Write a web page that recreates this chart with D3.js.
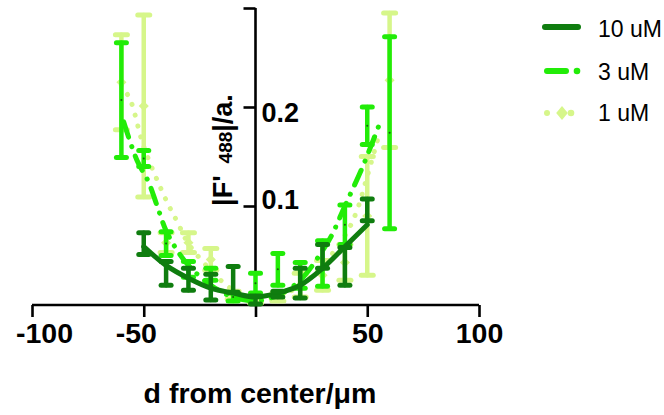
<!DOCTYPE html>
<html>
<head>
<meta charset="utf-8">
<script src="https://cdn.jsdelivr.net/npm/d3@7"></script>
<style>
  html, body { margin: 0; padding: 0; background: #fff; }
  svg { display: block; font-family: "Liberation Sans", Arial, sans-serif; }
</style>
</head>
<body>
<svg id="chart" width="664" height="415"></svg>
<script>
// Fluorescence change vs. distance from the centre, three concentrations
const seriesNames = ["10 uM", "3 uM", "1 uM"];

// 10 uM: means and SEM
const dist10 = [-50, -40, -30, -20, -10, 0, 10, 20, 30, 40, 50];
const mean10 = [0.062, 0.032, 0.026, 0.018, 0.026, 0.005, 0.011, 0.022, 0.049, 0.039, 0.096];
const err10  = [0.011, 0.012, 0.011, 0.013, 0.013, 0.004, 0.003, 0.015, 0.012, 0.019, 0.011];

// 3 uM
const dist3 = [-60, -50, -40, -30, -20, -10, 0, 10, 20, 30, 40, 50, 60];
const mean3 = [0.207, 0.148, 0.062, 0.036, 0.031, 0.008, 0.022, 0.036, 0.030, 0.042, 0.081, 0.181, 0.174];
const err3  = [0.058, 0.008, 0.012, 0.008, 0.006, 0.004, 0.010, 0.016, 0.013, 0.023, 0.020, 0.019, 0.097];

// 1 uM
const dist1 = [-60, -50, -40, -30, -20, -10, 0, 10, 20, 30, 40, 50, 60];
const mean1 = [0.225, 0.201, 0.063, 0.063, 0.046, 0.010, 0.005, 0.008, 0.020, 0.030, 0.043, 0.090, 0.227];
const err1  = [0.048, 0.092, 0.010, 0.010, 0.011, 0.004, 0.003, 0.004, 0.012, 0.015, 0.018, 0.060, 0.068];

// fitted trend curves
const fitX10 = [-50, -40, -30, -20, -10, 0, 10, 20, 30, 40, 50];
const fitY10 = [0.059, 0.040, 0.027, 0.017, 0.012, 0.008, 0.012, 0.020, 0.037, 0.059, 0.081];
const fitX3 = [-59, -53, -48, -44, -40, -35, -30, -20, -10, 0, 10, 20, 30, 34, 40, 48, 55];
const fitY3 = [0.185, 0.146, 0.125, 0.100, 0.075, 0.055, 0.040, 0.020, 0.008, 0.004, 0.010, 0.025, 0.055, 0.070, 0.100, 0.140, 0.180];
const fitX1 = [-60, -56, -50, -40, -35, -30, -20, -10, 0, 10, 20, 30, 40, 45, 50, 55];
const fitY1 = [0.222, 0.207, 0.160, 0.106, 0.084, 0.062, 0.035, 0.015, 0.006, 0.008, 0.020, 0.040, 0.070, 0.093, 0.130, 0.170];

// axis ticks
const xTicks = [-100, -50, 0, 50, 100];
const xTickLabels = ["-100", "-50", "", "50", "100"];
const yTicks = [0.1, 0.2, 0.3];
const yTickLabels = ["0.1", "0.2", ""];

const colors = { "10 uM": "#0f7d0f", "3 uM": "#22ec08", "1 uM": "#d6f68a" };

const svg = d3.select("#chart");
const x = d3.scaleLinear().domain([-100, 100]).range([32, 479]);
const y = d3.scaleLinear().domain([0, 0.3]).range([305, 8]);

const g = svg.append("g");

// x axis along y = 0
const xAxis = g.append("g").attr("transform", `translate(0,${y(0)})`)
  .call(d3.axisBottom(x).tickValues(xTicks).tickFormat((d, i) => xTickLabels[i]).tickSize(12).tickPadding(6));
// y axis through x = 0, labels to the right of the line
const yAxis = g.append("g").attr("transform", `translate(${x(0)},0)`)
  .call(d3.axisLeft(y).tickValues(yTicks).tickFormat((d, i) => yTickLabels[i]).tickSize(12));
[xAxis, yAxis].forEach(a => {
  a.select(".domain").attr("stroke", "#000").attr("stroke-width", 2.6);
  a.selectAll(".tick line").attr("stroke", "#000").attr("stroke-width", 2.6);
  a.selectAll("text").attr("fill", "#000").attr("font-weight", "bold")
    .attr("font-family", "'Liberation Sans', Arial, sans-serif").attr("font-size", 27);
});
xAxis.selectAll(".tick text").attr("font-size", 28.5);
xAxis.select(".domain").attr("d", `M${x(-100)},0H${x(100)}`);
// negative labels sit slightly off their ticks
xAxis.selectAll(".tick text").attr("dx", d => d === -100 ? 12 : d === -50 ? -8 : 0);
yAxis.select(".domain").attr("d", `M0,${y(0.3)}V${y(0)}`);
yAxis.selectAll(".tick text").attr("text-anchor", "start").attr("x", 6)
  .attr("dy", (d) => d === 0.2 ? "0.55em" : "0.1em");

// axis titles
svg.append("text").attr("x", 260).attr("y", 403).attr("text-anchor", "middle")
  .attr("font-size", 28.5).attr("font-weight", "bold").text("d from center/\u03bcm");
const yTitle = svg.append("text")
  .attr("transform", `translate(232,150) rotate(-90)`)
  .attr("text-anchor", "middle").attr("font-size", 27).attr("font-weight", "bold");
yTitle.append("tspan").text("|F'");
yTitle.append("tspan").attr("font-size", 19).attr("dx", 12).text("488");
yTitle.append("tspan").text("|/a.");

const line = d3.line().x(d => x(d[0])).y(d => y(d[1])).curve(d3.curveCatmullRom);

function drawSeries(name, dist, mean, err, fx, fy, dash, cap) {
  const c = colors[name];
  const s = svg.append("g").attr("class", "series");
  s.append("path").datum(d3.zip(fx, fy)).attr("d", line)
    .attr("fill", "none").attr("stroke", c).attr("stroke-width", 5)
    .attr("stroke-linecap", "round").attr("stroke-dasharray", dash);
  const pts = d3.zip(dist, mean, err);
  const bars = s.selectAll(".bar").data(pts).join("g");
  bars.append("line").attr("x1", d => x(d[0])).attr("x2", d => x(d[0]))
    .attr("y1", d => y(d[1] - d[2])).attr("y2", d => y(d[1] + d[2]))
    .attr("stroke", c).attr("stroke-width", 4.5).attr("stroke-linecap", "round");
  [1, -1].forEach(sgn => {
    bars.append("line").attr("x1", d => x(d[0]) - cap).attr("x2", d => x(d[0]) + cap)
      .attr("y1", d => y(d[1] + sgn * d[2])).attr("y2", d => y(d[1] + sgn * d[2]))
      .attr("stroke", c).attr("stroke-width", 5).attr("stroke-linecap", "round");
  });
  return { s, bars };
}

// 1 uM underneath, 10 uM on top
const s1 = drawSeries("1 uM", dist1, mean1, err1, fitX1, fitY1, "0.1 11", 6);
s1.bars.append("path").attr("d", d3.symbol(d3.symbolDiamond, 45))
  .attr("transform", d => `translate(${x(d[0])},${y(d[1])}) scale(1.4,0.8)`).attr("fill", colors["1 uM"]);
const s3 = drawSeries("3 uM", dist3, mean3, err3, fitX3, fitY3, "16 10 0.1 10", 5);
s3.bars.append("circle").attr("cx", d => x(d[0])).attr("cy", d => y(d[1])).attr("r", 1)
  .attr("fill", "#1a5a10");
const s10 = drawSeries("10 uM", dist10, mean10, err10, fitX10, fitY10, null, 5);

// legend
const legend = svg.append("g");
const legRows = [
  { name: "10 uM", y: 27, ty: 37 },
  { name: "3 uM", y: 71, ty: 80 },
  { name: "1 uM", y: 113, ty: 121 }
];
legRows.forEach(r => {
  const c = colors[r.name];
  if (r.name === "10 uM") {
    legend.append("line").attr("x1", 545).attr("x2", 578).attr("y1", r.y).attr("y2", r.y)
      .attr("stroke", c).attr("stroke-width", 6).attr("stroke-linecap", "round");
  } else if (r.name === "3 uM") {
    legend.append("line").attr("x1", 547).attr("x2", 566).attr("y1", r.y).attr("y2", r.y)
      .attr("stroke", c).attr("stroke-width", 6).attr("stroke-linecap", "round");
    legend.append("circle").attr("cx", 577).attr("cy", r.y).attr("r", 3.3).attr("fill", c);
  } else {
    legend.append("circle").attr("cx", 547).attr("cy", r.y).attr("r", 3).attr("fill", c);
    legend.append("path").attr("d", d3.symbol(d3.symbolDiamond, 70))
      .attr("transform", `translate(562,${r.y}) scale(1.3,0.9)`).attr("fill", c);
    legend.append("circle").attr("cx", 571).attr("cy", r.y).attr("r", 3.3).attr("fill", c);
  }
  legend.append("text").attr("x", 598).attr("y", r.ty).attr("font-size", 23)
    .attr("fill", "#000").text(r.name);
});
</script>
</body>
</html>
